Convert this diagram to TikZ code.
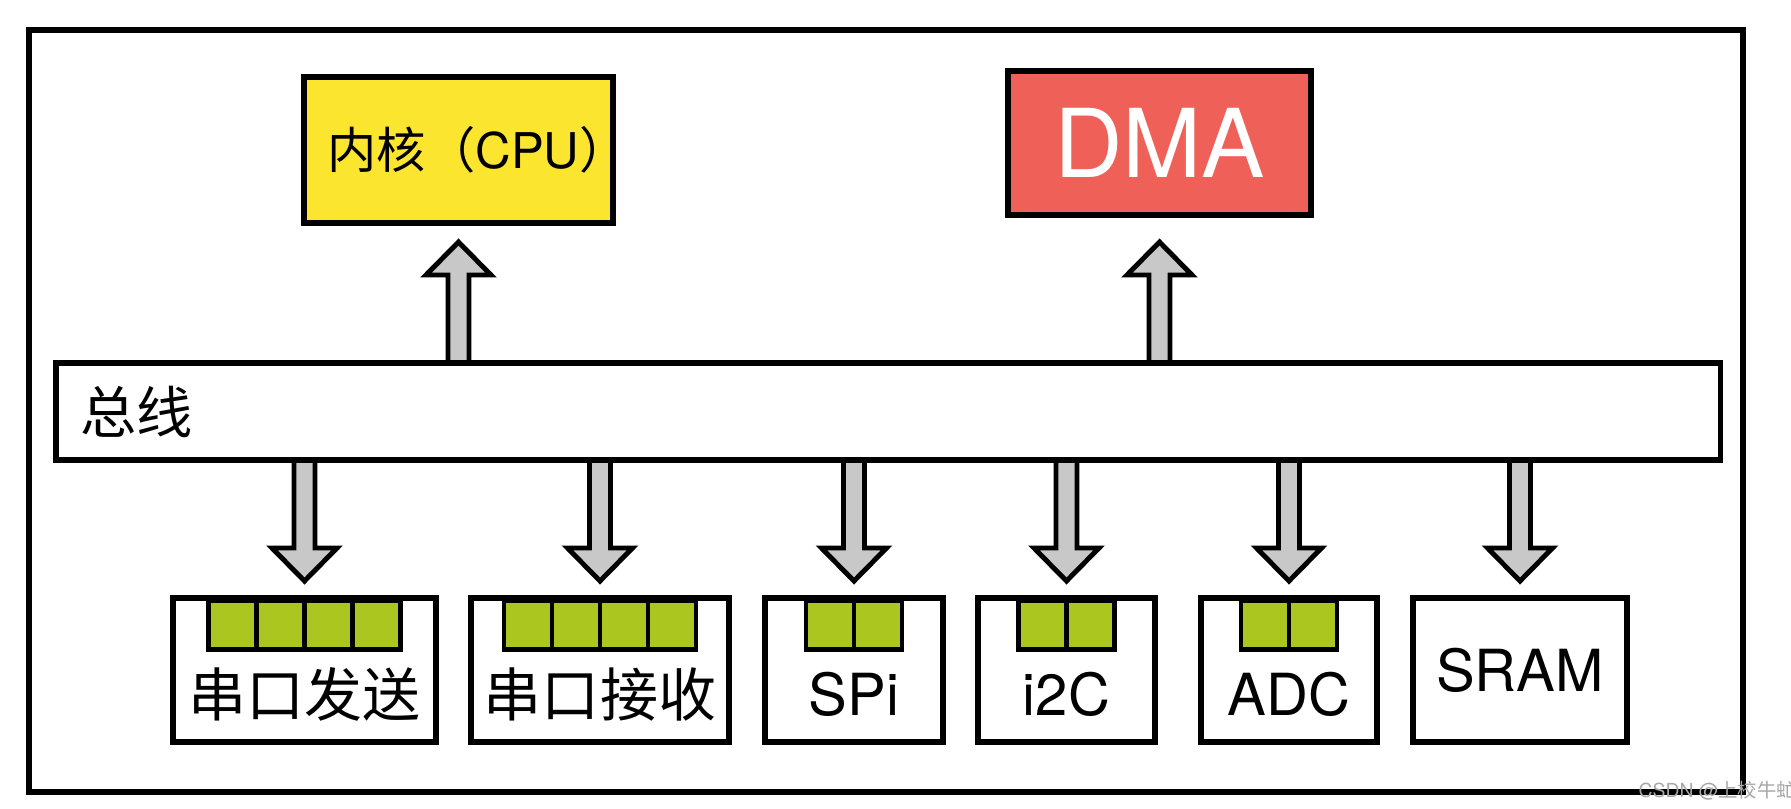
\documentclass[tikz,border=0pt]{standalone}
\usepackage{fontspec}
\setmainfont{TeX Gyre Heros}
\newfontfamily\cjk{Noto Sans CJK SC}
\usetikzlibrary{calc}

\definecolor{cpuyellow}{RGB}{252,229,46}
\definecolor{dmared}{RGB}{239,97,88}
\definecolor{fifogreen}{RGB}{172,198,32}
\definecolor{arrowgray}{RGB}{200,200,200}

\begin{document}
\begin{tikzpicture}[x=0.01cm,y=0.01cm,
        blk/.style={draw,line width=1.7pt,inner sep=0pt},
        cell/.style={draw,line width=1.3pt,fill=fifogreen,minimum width=0.48cm,minimum height=0.49cm,inner sep=0pt,anchor=north},
        lbl/.style={inner sep=0pt,font=\fontsize{16.5}{19}\selectfont},
        fat/.style={draw,line width=1.4pt,fill=arrowgray,line join=miter}]
        \useasboundingbox (0,0) rectangle (1791,808);
        \draw[line width=1.7pt] (29,16) rectangle (1743,778);
        % bus, core and dma
        \node[blk,minimum width=16.64cm,minimum height=0.97cm] (bus) at (888,396.5) {};
        \node[lbl,anchor=west,font=\cjk\fontsize{16}{18}\selectfont] (buslbl) at (80,396) {总线};
        \node[blk,fill=cpuyellow,minimum width=3.09cm,minimum height=1.46cm,font=\fontsize{14}{16}\selectfont] (cpu) at (458.5,658) {{\cjk 内核（}CPU{\cjk ）}\kern-0.8em};
        \node[blk,fill=dmared,minimum width=3.03cm,minimum height=1.44cm,text=white,font=\fontsize{27}{30}\selectfont] (dma) at (1159.5,665) {DMA};
        \foreach \tgt in {cpu,dma} {
            \draw[fat] (bus.north -| \tgt.south) +(-10.5,0) -- +(-10.5,85) -- +(-32.5,85) -- +(0,118) -- +(32.5,85) -- +(10.5,85) -- +(10.5,0);
        }
        % peripherals
        \foreach \i/\cx/\w/\n/\ly/\txt in {1/304.5/2.63/4/113.5/{\cjk 串口发送},2/600/2.58/4/113.5/{\cjk 串口接收},3/854/1.78/2/113.5/SPi,4/1066.5/1.77/2/113.5/i2C,5/1289/1.76/2/113.5/ADC,6/1520/2.14/0/138/SRAM} {
            \node[blk,minimum width=\w cm,minimum height=1.44cm] (b\i) at (\cx,138) {};
            \node[lbl] (l\i) at (\cx,\ly) {\txt};
            \ifnum\n>0
                \foreach \j in {1,...,\n}
                    \node[cell] (c\i-\j) at ({\cx+(\j-0.5-\n/2)*48},210) {};
            \fi
            \draw[fat] (bus.south -| b\i.north) +(-10.5,0) -- +(-10.5,-85) -- +(-32.5,-85) -- +(0,-118) -- +(32.5,-85) -- +(10.5,-85) -- +(10.5,0);
        }
        \node[anchor=west,inner sep=0pt,text=gray!70,font=\fontsize{5.5}{6}\selectfont] (wm) at (1638,17) {CSDN @{\cjk 上校牛虻}};
    \end{tikzpicture}
\end{document}
